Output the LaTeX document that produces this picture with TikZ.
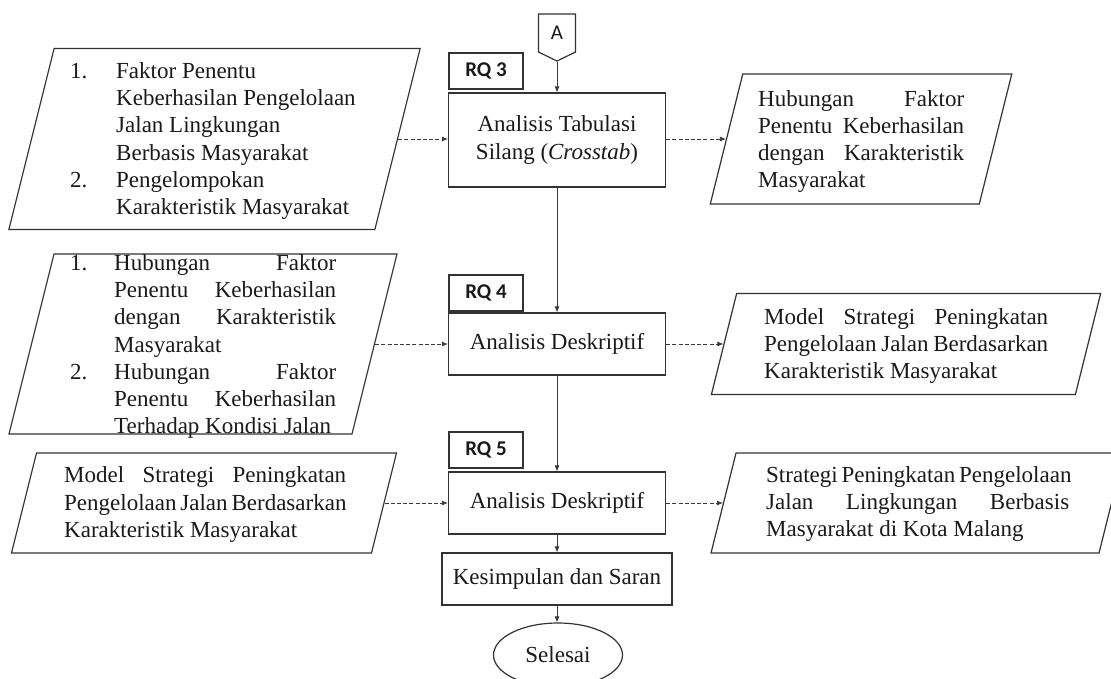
\documentclass[tikz,border=0pt]{standalone}
\usepackage{fontspec}
\setmainfont{Liberation Serif}
\newfontfamily\calibfont{Carlito}
\usetikzlibrary{shapes.geometric,shapes.symbols,arrows.meta}
\definecolor{edge}{HTML}{333333}
\definecolor{conn}{HTML}{3A3A3A}
\definecolor{txt}{HTML}{1A1A1A}
\newcommand\flowfont{\fontsize{23}{27.3}\selectfont}
\newcommand\jline[2]{\makebox[#1][s]{#2}}

\begin{document}
\begin{tikzpicture}[x=1pt,y=-1pt,
  every node/.style={inner sep=0pt, text=txt},
  proc/.style={draw=edge, line width=1.2pt, rectangle, align=center, font=\flowfont},
  io/.style={draw=edge, line width=1.2pt, rectangle, transform shape, xslant=0.25},
  rq/.style={draw=edge, line width=1.2pt, minimum width=74pt, minimum height=36pt,
    font=\calibfont\bfseries\fontsize{21}{25}\selectfont},
  flow/.style={draw=conn, line width=0.8pt, -{Latex[length=6pt,width=5pt]}},
  data/.style={flow, dash pattern=on 4pt off 2.2pt},
  txtblock/.style={anchor=west, align=left, font=\flowfont}
]
\useasboundingbox (0,0) rectangle (1111,679);
\fill[white] (0,0) rectangle (1111,679);
\clip (0,0) rectangle (1111,679);

% off-page connector
\node[draw=edge, line width=1.2pt, signal, signal to=south, signal from=nowhere,
  signal pointer angle=128, minimum width=37pt, minimum height=41pt,
  font=\calibfont\fontsize{21}{25}\selectfont] (A) at (557,33) {A};

% process boxes
\node[proc, minimum width=217pt, minimum height=94pt] (b1) at (557,140)
  {Analisis Tabulasi\\Silang (\textit{Crosstab})};
\node[proc, minimum width=217pt, minimum height=62pt] (b2) at (557,344) {Analisis Deskriptif};
\node[proc, minimum width=217pt, minimum height=62pt] (b3) at (557,503) {Analisis Deskriptif};
\node[proc, minimum width=230pt, minimum height=52pt] (b4) at (557,579) {Kesimpulan dan Saran};
\node[draw=edge, line width=1.2pt, ellipse, minimum width=129pt, minimum height=64pt,
  font=\flowfont] (end) at (558,655) {Selesai};

% research question tags
\node[rq] (rq3) at (486,71) {RQ 3};
\node[rq] (rq4) at (486,293) {RQ 4};
\node[rq] (rq5) at (486,450) {RQ 5};

% input / output data (slanted boxes)
\node[io, minimum width=366pt, minimum height=181pt] (p1) at (214.5,139) {};
\node[io, minimum width=269pt, minimum height=130pt] (p2) at (861,139) {};
\node[io, minimum width=343pt, minimum height=180pt] (p3) at (203,344) {};
\node[io, minimum width=364pt, minimum height=101pt] (p4) at (906,344) {};
\node[io, minimum width=360pt, minimum height=100pt] (p5) at (204,503) {};
\node[io, minimum width=388pt, minimum height=100pt] (p6) at (917.5,503) {};

\node[txtblock] (t1) at (70,141) {%
  \makebox[46pt][l]{1.}Faktor Penentu\\
  \hspace*{46pt}Keberhasilan Pengelolaan\\
  \hspace*{46pt}Jalan Lingkungan\\
  \hspace*{46pt}Berbasis Masyarakat\\
  \makebox[46pt][l]{2.}Pengelompokan\\
  \hspace*{46pt}Karakteristik Masyarakat};

\node[txtblock] (t2) at (758,141.5) {%
  \jline{206pt}{Hubungan Faktor}\\
  \jline{206pt}{Penentu Keberhasilan}\\
  \jline{206pt}{dengan Karakteristik}\\
  Masyarakat};

\node[txtblock] (t3) at (70,346.5) {%
  \makebox[44pt][l]{1.}\jline{222pt}{Hubungan Faktor}\\
  \hspace*{44pt}\jline{222pt}{Penentu Keberhasilan}\\
  \hspace*{44pt}\jline{222pt}{dengan Karakteristik}\\
  \hspace*{44pt}Masyarakat\\
  \makebox[44pt][l]{2.}\jline{222pt}{Hubungan Faktor}\\
  \hspace*{44pt}\jline{222pt}{Penentu Keberhasilan}\\
  \hspace*{44pt}Terhadap Kondisi Jalan};

\node[txtblock] (t4) at (764,346) {%
  \jline{284pt}{Model Strategi Peningkatan}\\
  \jline{284pt}{Pengelolaan Jalan Berdasarkan}\\
  Karakteristik Masyarakat};

\node[txtblock] (t5) at (64,504.5) {%
  \jline{282pt}{Model Strategi Peningkatan}\\
  \jline{282pt}{Pengelolaan Jalan Berdasarkan}\\
  Karakteristik Masyarakat};

\node[txtblock] (t6) at (766,504) {%
  \jline{303pt}{Strategi Peningkatan Pengelolaan}\\
  \jline{303pt}{Jalan Lingkungan Berbasis}\\
  Masyarakat di Kota Malang};

% main flow
\draw[flow] (A.south) -- (A.south |- b1.north);
\draw[flow] (b1.south) -- (b2.north);
\draw[flow] (b2.south) -- (b3.north);
\draw[flow] (b3.south) -- (b4.north);
\draw[flow] (b4.south) -- (b4.south |- end.north);

% data links
\draw[data] (p1.east) -- (p1.east -| b1.west);
\draw[data] (b1.east |- p2.west) -- (p2.west);
\draw[data] (p3.east) -- (p3.east -| b2.west);
\draw[data] (b2.east |- p4.west) -- (p4.west);
\draw[data] (p5.east) -- (p5.east -| b3.west);
\draw[data] (b3.east |- p6.west) -- (p6.west);
\end{tikzpicture}
\end{document}
